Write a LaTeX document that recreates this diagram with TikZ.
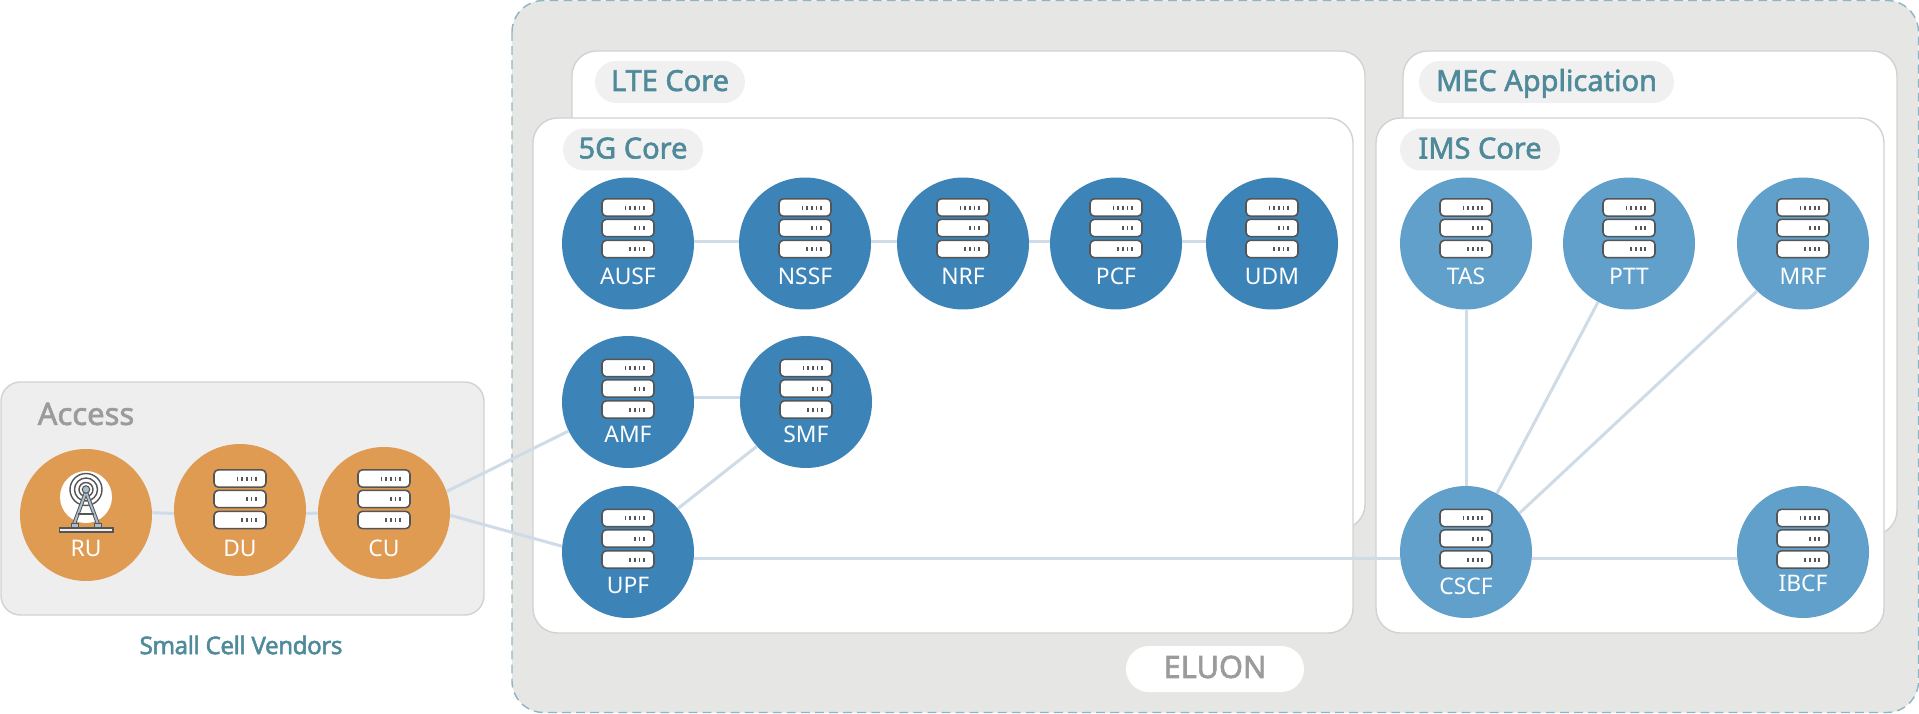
\documentclass[tikz,border=0pt]{standalone}
\usepackage{fontspec}
\setmainfont{Noto Sans}
\newfontfamily\headfont[FakeBold=2]{Noto Sans}
\newfontfamily\vendorfont[FakeBold=2,LetterSpace=-2]{Noto Sans}

\definecolor{outerfill}{HTML}{E6E6E4}
\definecolor{outerdash}{HTML}{8FB5C4}
\definecolor{panelline}{HTML}{D2D2D2}
\definecolor{accessfill}{HTML}{EEEEEE}
\definecolor{pillfill}{HTML}{F0F0F0}
\definecolor{teal}{HTML}{4F8A9A}
\definecolor{greytext}{HTML}{9B9B9B}
\definecolor{corecol}{HTML}{3C83B8}
\definecolor{imscol}{HTML}{60A0CB}
\definecolor{accesscol}{HTML}{E09B52}
\definecolor{edgecol}{HTML}{CFDBE6}
\definecolor{iconline}{HTML}{555555}
\definecolor{towercol}{HTML}{A9BFCE}

\tikzset{
  panel/.style={draw=panelline, fill=white, line width=0.8pt, rounded corners=14pt},
  pill/.style={fill=pillfill, text=teal, minimum height=0.84cm, rounded corners=12pt, inner sep=0pt, text height=11.8pt, text depth=1.6pt, font=\headfont\fontsize{16.5}{16.5}\selectfont},
  nf/.style={circle, minimum size=2.64cm, inner sep=0pt, draw=none},
  corenf/.style={nf, fill=corecol},
  imsnf/.style={nf, fill=imscol},
  accessnf/.style={nf, fill=accesscol},
  nftext/.style={text=white, inner sep=0pt, text height=9.3pt, text depth=0pt, font=\fontsize{13}{13}\selectfont},
  link/.style={draw=edgecol, line width=1.7pt},
  serverrow/.style={draw=iconline, fill=white, line width=0.9pt, rounded corners=2.5pt},
  serverdot/.style={draw=iconline, line width=1pt},
}

% server icon: centre x, centre y
\newcommand{\servericon}[2]{
  \foreach \rowy/\ndots in {-20.5/5, 0/3, 21/4} {
    \draw[serverrow] ({#1-26},{#2+\rowy-8.7}) rectangle ({#1+26},{#2+\rowy+8.7});
    \foreach \d in {1,...,\ndots}
      \draw[serverdot] ({#1+21-\d*4.7},{#2+\rowy-2}) -- ({#1+21-\d*4.7},{#2+\rowy+2});
  }
}
% function circle: name, x, y, style, label y, text
\newcommand{\nfnode}[6]{
  \node[#4] (#1) at (#2,#3) {};
  \node[nftext] (#1text) at (#2,#5) {#6};
}

\begin{document}
\begin{tikzpicture}[x=0.02cm, y=-0.02cm]
\useasboundingbox (0,0) rectangle (1919,713);

% ---------- Panels ----------
\draw[fill=outerfill, draw=outerdash, line width=0.8pt, dash pattern=on 5pt off 3pt, rounded corners=18pt]
(512,0.5) rectangle (1918.5,712.5);
\draw[panel] (572,51) rectangle (1365,529);
\draw[panel] (1403,51) rectangle (1897,535);
\draw[panel] (533,118) rectangle (1353,633);
\draw[panel] (1376,118) rectangle (1884,633);
\draw[panel, fill=accessfill, rounded corners=11pt] (1,382) rectangle (484,615);

% ---------- Labels ----------
\node[pill, minimum width=3cm] (ltelabel) at (670,82) {LTE Core};
\node[pill, minimum width=2.8cm] (fivegLabel) at (633,149.5) {5G Core};
\node[pill, minimum width=5.1cm] (meclabel) at (1546.5,82) {MEC Application};
\node[pill, minimum width=3.2cm] (imslabel) at (1480,149.5) {IMS Core};
\node[pill, fill=white, text=greytext, minimum width=3.56cm, minimum height=0.92cm, rounded corners=13pt, font=\headfont\fontsize{17.5}{17.5}\selectfont] (eluonlabel) at (1215,669) {ELUON};
\node[text=greytext, inner sep=0pt, font=\headfont\fontsize{17.6}{17.6}\selectfont] (accesslabel) at (86,414) {Access};
\node[text=teal, inner sep=0pt, font=\vendorfont\fontsize{13.8}{13.8}\selectfont] (vendorlabel) at (241,645) {Small Cell Vendors};

% ---------- Access ----------
\nfnode{RU}{86}{515}{accessnf}{548}{RU}
\nfnode{DU}{240}{510}{accessnf}{548}{DU}
\servericon{240}{499}
\nfnode{CU}{384}{513}{accessnf}{548}{CU}
\servericon{384}{499}

% RU antenna
\fill[white] (86,497) circle (26);
\draw[iconline, line width=0.8pt] (86,489.5) circle (16);
\draw[iconline, line width=0.8pt] (86,489.5) circle (11.5);
\draw[iconline, line width=0.8pt] (86,489.5) circle (7);
\draw[iconline, line width=2.2pt] (86,492) -- (74,524);
\draw[iconline, line width=2.2pt] (86,492) -- (98,524);
\draw[towercol, line width=1.1pt] (86,492) -- (74,524);
\draw[towercol, line width=1.1pt] (86,492) -- (98,524);
\draw[iconline, line width=1.6pt] (78,514) -- (94,514);
\draw[draw=iconline, fill=towercol, line width=0.6pt] (86,489.5) circle (3.75);
\draw[draw=iconline, fill=towercol, line width=0.5pt] (71,523) rectangle (78,528);
\draw[draw=iconline, fill=towercol, line width=0.5pt] (94,523) rectangle (101,528);
\draw[draw=iconline, fill=accessfill, line width=0.6pt] (59.5,528) rectangle (113,532);

% ---------- 5G Core ----------
\nfnode{AUSF}{628}{243.5}{corenf}{276}{AUSF}
\servericon{628}{228}
\nfnode{NSSF}{805}{243.5}{corenf}{276}{NSSF}
\servericon{805}{228}
\nfnode{NRF}{963}{243.5}{corenf}{276}{NRF}
\servericon{963}{228}
\nfnode{PCF}{1116}{243.5}{corenf}{276}{PCF}
\servericon{1116}{228}
\nfnode{UDM}{1272}{243.5}{corenf}{276}{UDM}
\servericon{1272}{228}
\nfnode{AMF}{628}{402}{corenf}{434}{AMF}
\servericon{628}{388.5}
\nfnode{SMF}{806}{402}{corenf}{434}{SMF}
\servericon{806}{388.5}
\nfnode{UPF}{628}{552}{corenf}{585}{UPF}
\servericon{628}{538.5}

% ---------- IMS Core ----------
\nfnode{TAS}{1466}{243.5}{imsnf}{276}{TAS}
\servericon{1466}{228}
\nfnode{PTT}{1629}{243.5}{imsnf}{276}{PTT}
\servericon{1629}{228}
\nfnode{MRF}{1803}{243.5}{imsnf}{276}{MRF}
\servericon{1803}{228}
\nfnode{CSCF}{1466}{552}{imsnf}{586}{CSCF}
\servericon{1466}{538.5}
\nfnode{IBCF}{1803}{552}{imsnf}{583}{IBCF}
\servericon{1803}{538.5}

% ---------- Links ----------
\draw[link] (RU.2) -- (DU.183);
\draw[link] (DU.-3) -- (CU.180);
\draw[link] (CU.19) -- (AMF.206);
\draw[link] (CU.-2) -- (UPF.175);
\draw[link] (AUSF.2) -- (NSSF.178);
\draw[link] (NSSF.2) -- (NRF.178);
\draw[link] (NRF.2) -- (PCF.178);
\draw[link] (PCF.2) -- (UDM.178);
\draw[link] (AMF.4) -- (SMF.176);
\draw[link] (UPF.41) -- (SMF.222);
\draw[link] (UPF.-6) -- (CSCF.186);
\draw[link] (TAS) -- (CSCF);
\draw[link] (PTT) -- (CSCF);
\draw[link] (MRF.226) -- (CSCF.36);
\draw[link] (CSCF.-6) -- (IBCF.186);

\end{tikzpicture}
\end{document}
